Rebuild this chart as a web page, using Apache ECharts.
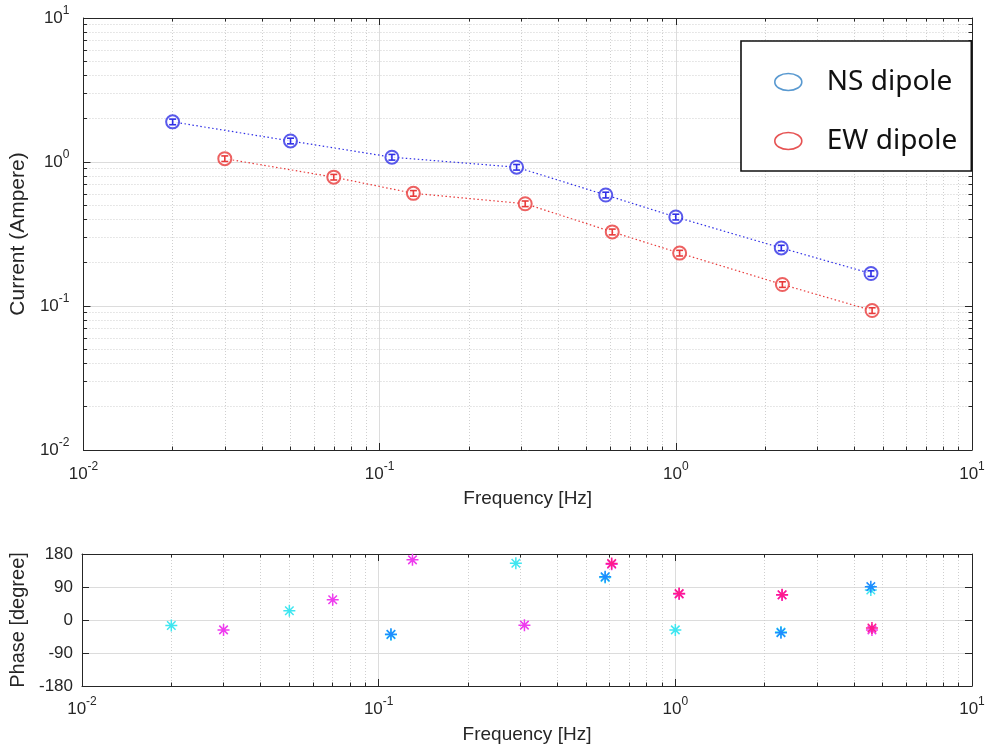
<!DOCTYPE html>
<html>
<head>
<meta charset="utf-8">
<script src="https://cdn.jsdelivr.net/npm/echarts@6/dist/echarts.min.js"></script>
<style>
  html, body { margin: 0; padding: 0; background: #fff; }
  #chart { width: 990px; height: 753px; }
</style>
</head>
<body>
<div id="chart"></div>
<script>
// Dipole current amplitude (A) against frequency (Hz)
const nsFreq = [0.02, 0.05, 0.11, 0.29, 0.58, 1.0, 2.27, 4.56];
const nsCurrent = [1.90, 1.40, 1.08, 0.92, 0.59, 0.415, 0.253, 0.168];
const nsCurrentErr = [0.085, 0.063, 0.049, 0.041, 0.027, 0.019, 0.011, 0.0075];

const ewFreq = [0.03, 0.07, 0.13, 0.31, 0.61, 1.03, 2.29, 4.6];
const ewCurrent = [1.055, 0.785, 0.606, 0.513, 0.327, 0.233, 0.141, 0.093];
const ewCurrentErr = [0.047, 0.035, 0.027, 0.023, 0.015, 0.0105, 0.0063, 0.0042];

// Phase (degrees)
const nsPhase = [-15, 25, -40, 155, 116, -27, -33, 82];
const nsPhaseAltFreq = [0.11, 0.58, 2.27, 4.56];
const nsPhaseAlt = [-39, 118, -35, 91];
const ewPhase = [-27, 55, 164, -14, 152, 71, 68, -27];
const ewPhaseAltFreq = [0.61, 1.03, 2.29, 4.6];
const ewPhaseAlt = [154, 72, 69, -22];

// Axis ticks
const decadeExponents = [-2, -1, 0, 1];
const phaseTicks = [-180, -90, 0, 90, 180];
const legendNames = ['NS dipole', 'EW dipole'];

const FONT = 'Liberation Sans, Arial, Helvetica, sans-serif';
const AXIS_COLOR = '#262626';
const TEXT_COLOR = '#262626';
const NS_COLOR = '#2f2fe6';
const EW_COLOR = '#e83a3a';
const CYAN = '#3fe6f0';
const MAGENTA = '#ee3cee';
const BLUE = '#1e8cff';
const PINK = '#ff1a8c';

const ASTERISK = 'path://M5,0L5,10M0,5L10,5M1.46,1.46L8.54,8.54M1.46,8.54L8.54,1.46';
const ELLIPSE = 'path://M0,8.5A13.5,8.5 0 1,0 27,8.5A13.5,8.5 0 1,0 0,8.5Z';

const pairs = (xs, ys) => xs.map((x, i) => [x, ys[i]]);
const triples = (xs, ys, es) => xs.map((x, i) => [x, ys[i], es[i]]);

const logMin = Math.pow(10, decadeExponents[0]);
const logMax = Math.pow(10, decadeExponents[decadeExponents.length - 1]);

const supRich = {
  b: { fontSize: 17, lineHeight: 26, fontFamily: FONT, color: TEXT_COLOR },
  s: { fontSize: 12, lineHeight: 14, verticalAlign: 'top', fontFamily: FONT, color: TEXT_COLOR }
};
const decadeLabel = (v) => '{b|10}{s|' + Math.round(Math.log10(v)) + '}';

function logAxis(gridIndex, position, main, labelMargin) {
  return {
    type: 'log', logBase: 10, gridIndex, position,
    min: logMin, max: logMax,
    axisLine: { show: true, onZero: false, lineStyle: { color: AXIS_COLOR, width: 1 } },
    axisTick: { show: true, inside: true, length: 7, lineStyle: { color: AXIS_COLOR, width: 1 } },
    minorTick: { show: true, splitNumber: 9, length: 3.5, lineStyle: { color: AXIS_COLOR, width: 1 } },
    splitLine: { show: main, lineStyle: { color: '#dcdcdc', width: 1 } },
    minorSplitLine: { show: main, lineStyle: { color: '#cfcfcf', width: 1, type: [1, 2] } },
    axisLabel: main ? { show: true, margin: labelMargin, formatter: decadeLabel, rich: supRich } : { show: false }
  };
}

// Small capped error bars drawn on top of the open circle markers
function errorBarItem(color) {
  return function (params, api) {
    const x = api.value(0), y = api.value(1), e = api.value(2);
    const top = api.coord([x, y + e]);
    const bot = api.coord([x, y - e]);
    const half = 3.5;
    const style = { stroke: color, lineWidth: 1.6 };
    return {
      type: 'group',
      children: [
        { type: 'line', shape: { x1: top[0], y1: top[1], x2: bot[0], y2: bot[1] }, style },
        { type: 'line', shape: { x1: top[0] - half, y1: top[1], x2: top[0] + half, y2: top[1] }, style },
        { type: 'line', shape: { x1: bot[0] - half, y1: bot[1], x2: bot[0] + half, y2: bot[1] }, style }
      ]
    };
  };
}

function phaseSeries(name, xs, ys, color, z) {
  return {
    name, type: 'scatter', xAxisIndex: 2, yAxisIndex: 2, z,
    symbol: ASTERISK, symbolSize: 12,
    itemStyle: { color: 'rgba(0,0,0,0)', borderColor: color, borderWidth: 1.5, opacity: 1 },
    data: pairs(xs, ys)
  };
}

const chart = echarts.init(document.getElementById('chart'), null, { renderer: 'canvas' });

chart.setOption({
  backgroundColor: '#ffffff',
  animation: false,
  grid: [
    { left: 82, top: 18, width: 890, height: 432, containLabel: false },
    { left: 82, top: 554, width: 890, height: 132, containLabel: false }
  ],
  xAxis: [
    Object.assign(logAxis(0, 'bottom', true, 11), {
      name: 'Frequency [Hz]', nameLocation: 'middle', nameGap: 39,
      nameTextStyle: { fontSize: 19, fontFamily: FONT, color: TEXT_COLOR }
    }),
    logAxis(0, 'top', false),
    Object.assign(logAxis(1, 'bottom', true, 10), {
      name: 'Frequency [Hz]', nameLocation: 'middle', nameGap: 39,
      nameTextStyle: { fontSize: 19, fontFamily: FONT, color: TEXT_COLOR }
    }),
    logAxis(1, 'top', false)
  ],
  yAxis: [
    Object.assign(logAxis(0, 'left', true, 14), {
      name: 'Current (Ampere)', nameLocation: 'middle', nameGap: 50,
      nameTextStyle: { fontSize: 21, fontFamily: FONT, color: TEXT_COLOR }
    }),
    logAxis(0, 'right', false),
    {
      type: 'value', gridIndex: 1, position: 'left',
      min: phaseTicks[0], max: phaseTicks[phaseTicks.length - 1], interval: 90,
      name: 'Phase [degree]', nameLocation: 'middle', nameGap: 54,
      nameTextStyle: { fontSize: 20, fontFamily: FONT, color: TEXT_COLOR },
      axisLine: { show: true, lineStyle: { color: AXIS_COLOR, width: 1 } },
      axisTick: { show: true, inside: true, length: 7, lineStyle: { color: AXIS_COLOR } },
      splitLine: { show: true, lineStyle: { color: '#dcdcdc', width: 1 } },
      axisLabel: { margin: 9, fontSize: 17, fontFamily: FONT, color: TEXT_COLOR }
    },
    {
      type: 'value', gridIndex: 1, position: 'right',
      min: phaseTicks[0], max: phaseTicks[phaseTicks.length - 1], interval: 90,
      axisLine: { show: true, lineStyle: { color: AXIS_COLOR, width: 1 } },
      axisTick: { show: true, inside: true, length: 7, lineStyle: { color: AXIS_COLOR } },
      splitLine: { show: false },
      axisLabel: { show: false }
    }
  ],
  legend: {
    left: 741, top: 41, orient: 'vertical',
    padding: [24, 14, 13, 33],
    itemWidth: 27, itemHeight: 17, itemGap: 25,
    backgroundColor: '#ffffff', borderColor: '#111111', borderWidth: 1.6,
    selectedMode: false,
    textStyle: { fontFamily: 'Noto Sans', fontSize: 28, lineHeight: 34, color: '#111111', padding: [0, 0, 0, 20] },
    data: [
      { name: legendNames[0], icon: ELLIPSE, itemStyle: { color: 'rgba(0,0,0,0)', borderColor: '#2f7fc4', borderWidth: 1.6 } },
      { name: legendNames[1], icon: ELLIPSE, itemStyle: { color: 'rgba(0,0,0,0)', borderColor: '#e02828', borderWidth: 1.6 } }
    ]
  },
  series: [
    {
      name: 'NS trend', type: 'line', xAxisIndex: 0, yAxisIndex: 0, z: 2,
      symbol: 'none', data: pairs(nsFreq, nsCurrent),
      lineStyle: { color: NS_COLOR, width: 1.2, type: [1.5, 2.5] }
    },
    {
      name: 'EW trend', type: 'line', xAxisIndex: 0, yAxisIndex: 0, z: 2,
      symbol: 'none', data: pairs(ewFreq, ewCurrent),
      lineStyle: { color: EW_COLOR, width: 1.2, type: [1.5, 2.5] }
    },
    {
      name: legendNames[0], type: 'scatter', xAxisIndex: 0, yAxisIndex: 0, z: 4,
      symbol: 'emptyCircle', symbolSize: 13,
      itemStyle: { color: NS_COLOR, borderColor: NS_COLOR, borderWidth: 1.6 },
      data: pairs(nsFreq, nsCurrent)
    },
    {
      name: legendNames[1], type: 'scatter', xAxisIndex: 0, yAxisIndex: 0, z: 4,
      symbol: 'emptyCircle', symbolSize: 13,
      itemStyle: { color: EW_COLOR, borderColor: EW_COLOR, borderWidth: 1.6 },
      data: pairs(ewFreq, ewCurrent)
    },
    {
      name: 'NS error', type: 'custom', xAxisIndex: 0, yAxisIndex: 0, z: 6,
      renderItem: errorBarItem(NS_COLOR), data: triples(nsFreq, nsCurrent, nsCurrentErr)
    },
    {
      name: 'EW error', type: 'custom', xAxisIndex: 0, yAxisIndex: 0, z: 6,
      renderItem: errorBarItem(EW_COLOR), data: triples(ewFreq, ewCurrent, ewCurrentErr)
    },
    phaseSeries('NS phase', nsFreq, nsPhase, CYAN, 3),
    phaseSeries('EW phase', ewFreq, ewPhase, MAGENTA, 3),
    phaseSeries('NS phase (alt)', nsPhaseAltFreq, nsPhaseAlt, BLUE, 4),
    phaseSeries('EW phase (alt)', ewPhaseAltFreq, ewPhaseAlt, PINK, 4)
  ]
});
</script>
</body>
</html>
